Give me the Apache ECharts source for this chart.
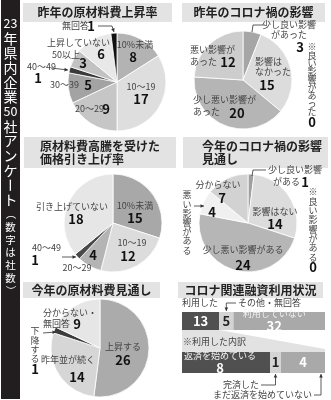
<!DOCTYPE html>
<html><head><meta charset="utf-8">
<script src="https://cdn.jsdelivr.net/npm/echarts@6/dist/echarts.min.js"></script>
<style>html,body{margin:0;padding:0;background:#fff}#c{width:331px;height:400px}</style>
</head><body><div id="c"></div>
<script>
// ---------- DATA ----------
const sideTitle = '23年県内企業50社アンケート';
const sideNote = '（数字は社数）';

const rise2022Title = ['昨年の原材料費上昇率'];
const rise2022Names = ['10%未満', '10〜19', '20〜29', '30〜39', '40〜49', '50以上', '上昇していない', '無回答'];
const rise2022Values = [8, 17, 9, 5, 1, 3, 6, 1];

const covid2022Title = ['昨年のコロナ禍の影響'];
const covid2022Names = ['少し良い影響があった', '影響はなかった', '少し悪い影響があった', '悪い影響があった'];
const covid2022Values = [3, 15, 20, 12];
const covid2022ZeroName = '※良い影響があった';
const covid2022ZeroValue = 0;

const priceTitle = ['原材料費高騰を受けた', '価格引き上げ率'];
const priceNames = ['10%未満', '10〜19', '20〜29', '40〜49', '引き上げていない'];
const priceValues = [15, 12, 4, 1, 18];

const covid2023Title = ['今年のコロナ禍の影響', '見通し'];
const covid2023Names = ['少し良い影響がある', '影響はない', '少し悪い影響がある', '悪い影響がある', '分からない'];
const covid2023Values = [1, 14, 24, 4, 7];
const covid2023ZeroName = '※良い影響がある';
const covid2023ZeroValue = 0;

const outlookTitle = ['今年の原材料費見通し'];
const outlookNames = ['上昇する', '昨年並が続く', '下降する', '分からない・無回答'];
const outlookValues = [26, 14, 1, 9];

const loanTitle = ['コロナ関連融資利用状況'];
const loanNames = ['利用した', 'その他・無回答', '利用していない'];
const loanValues = [13, 5, 32];
const breakdownTitle = '※利用した内訳';
const breakdownNames = ['返済を始めている', '完済した', 'まだ返済を始めていない'];
const breakdownValues = [8, 1, 4];

// ---------- STYLE / LAYOUT ----------
const FONT = '"Noto Sans CJK JP", "Noto Sans", sans-serif';
const NAME_C = '#444', VAL_C = '#111';
const R = 49;

const pies = [
  { names: rise2022Names, values: rise2022Values, center: [117, 82],
    colors: ['#b3b3b3', '#dedede', '#c6c6c6', '#a3a3a3', '#3a3a3a', '#c2c2c2', '#e8e8e8', '#111111'],
    labels: [
      { n: { x: 135, y: 45 }, v: { x: 133, y: 57 } },
      { n: { x: 141, y: 87 }, v: { x: 141, y: 99 } },
      { n: { x: 75, y: 109, align: 'left' }, v: { x: 106, y: 109 } },
      { n: { x: 50, y: 85, align: 'left' }, v: { x: 88, y: 85 } },
      { n: { x: 27, y: 67, align: 'left' }, v: { x: 38, y: 78 }, line: [[51, 68], [68, 70]], arrow: true },
      { n: { x: 52, y: 55, align: 'left' }, v: { x: 83, y: 63 } },
      { n: { x: 47, y: 43, align: 'left' }, v: { x: 101, y: 54 } },
      { n: { x: 62, y: 26, align: 'left' }, v: { x: 91, y: 26 }, line: [[98, 26], [112, 26], [114, 32]], arrow: true }
    ] },
  { names: covid2022Names, values: covid2022Values, center: [243, 80],
    colors: ['#a6a6a6', '#dcdcdc', '#b5b5b5', '#cdcdcd'],
    labels: [
      { n: { x: 289, y: 25, brk: [6], lh: 10 }, v: { x: 300, y: 47 }, line: [[265, 25], [253, 25], [252, 32]] },
      { n: { x: 255, y: 62, align: 'left', brk: [3], lh: 10 }, v: { x: 267, y: 85 } },
      { n: { x: 193, y: 100, align: 'left', brk: [7], lh: 12 }, v: { x: 237, y: 113 } },
      { n: { x: 190, y: 50, align: 'left', brk: [5], lh: 12 }, v: { x: 228, y: 62 } }
    ],
    zero: { name: covid2022ZeroName, value: covid2022ZeroValue, x: 312, y: 47, step: 8.1, vy: 122 } },
  { names: priceNames, values: priceValues, center: [113, 223],
    colors: ['#a8a8a8', '#dcdcdc', '#b4b4b4', '#4a4a4a', '#e6e6e6'],
    labels: [
      { n: { x: 135, y: 206 }, v: { x: 135, y: 218 } },
      { n: { x: 132, y: 243 }, v: { x: 128, y: 256 } },
      { n: { x: 77, y: 268 }, v: { x: 93, y: 255 } },
      { n: { x: 32, y: 248, align: 'left' }, v: { x: 35, y: 260 }, line: [[62, 257], [76, 257]], arrow: true },
      { n: { x: 72, y: 207 }, v: { x: 76, y: 219 } }
    ] },
  { names: covid2023Names, values: covid2023Values, center: [248, 223],
    colors: ['#a0a0a0', '#dcdcdc', '#b6b6b6', '#f0f0f0', '#d2d2d2'],
    labels: [
      { n: { x: 268, y: 170, align: 'left', brk: [6], lh: 12, dx: [0, 5] }, v: { x: 305, y: 182 }, line: [[266, 170], [253, 170], [252, 176]] },
      { n: { x: 275, y: 212 }, v: { x: 275, y: 224 } },
      { n: { x: 243, y: 250 }, v: { x: 243, y: 265 } },
      { n: { x: 187, y: 195, vert: true, step: 9.2 }, v: { x: 212, y: 212 }, line: [[194, 206], [204, 206]], arrow: true },
      { n: { x: 218, y: 185 }, v: { x: 222, y: 198 } }
    ],
    zero: { name: covid2023ZeroName, value: covid2023ZeroValue, x: 313, y: 192, step: 9.3, vy: 267 } },
  { names: outlookNames, values: outlookValues, center: [100, 348],
    colors: ['#ababab', '#d6d6d6', '#3c3c3c', '#e6e6e6'],
    labels: [
      { n: { x: 123, y: 347 }, v: { x: 123, y: 360 } },
      { n: { x: 68, y: 360 }, v: { x: 77, y: 377 } },
      { n: { x: 35, y: 331, vert: true, step: 9.2 }, v: { x: 35, y: 369 }, line: [[43, 333], [56, 332]], arrow: true },
      { n: { x: 43, y: 313, align: 'left', brk: [6], lh: 11 }, v: { x: 77, y: 324 } }
    ] }
];

const titles = [
  { lines: rise2022Title, x: 23, y: 3, w: 149, h: 19, align: 'center' },
  { lines: covid2022Title, x: 182, y: 3, w: 143, h: 19, align: 'center' },
  { lines: priceTitle, x: 24, y: 137, w: 152, h: 31, align: 'left', tx: 40 },
  { lines: covid2023Title, x: 183, y: 137, w: 145, h: 31, align: 'left', tx: 202 },
  { lines: outlookTitle, x: 23, y: 282, w: 137, h: 16, align: 'center' },
  { lines: loanTitle, x: 178, y: 282, w: 145, h: 16, align: 'center' }
];

const G1 = { left: 182, top: 312, width: 143, height: 18 };
const G2 = { left: 182, top: 352, width: 143, height: 21 };
const barColors = ['#505050', '#d4d4d4', '#a9a9a9'];
const loanLabelMode = ['v', 'v', 'nv'];
const loanLabelFill = ['#fff', '#222', '#fff'];
const loanLabelOffset = [[0, 0], [0, 0], [-5, 0]];
const brLabelMode = ['nv', 'v', 'v'];
const brLabelFill = ['#fff', '#222', '#fff'];
const brLabelOffset = [[-6, 0], [0, 0], [0, 0]];

// ---------- HELPERS ----------
const ROT = 'ー（）〜';
function tokens(s) { return s.match(/[0-9]+|./gu); }
function txt(t, x, y, o) {
  return { type: 'text', x: x, y: y, rotation: o.rot || 0, silent: true, z: 20,
    style: { text: t, fill: o.fill, fontSize: o.size, fontWeight: o.weight || 'normal', fontFamily: FONT,
      align: o.align || 'center', verticalAlign: 'middle' } };
}
function vert(str, x, y0, step, o) {
  return tokens(str).map(function (t, i) {
    const isD = /^[0-9]+$/.test(t);
    return txt(t, x, y0 + i * step, Object.assign({}, o, {
      rot: ROT.indexOf(t) >= 0 ? -Math.PI / 2 : 0,
      size: isD ? (o.dsize || o.size) : o.size, align: 'center' }));
  });
}
function splitAt(s, brk) {
  const out = []; let p = 0;
  brk.forEach(function (b) { out.push(s.slice(p, b)); p = b; });
  out.push(s.slice(p)); return out;
}
function leader(pts, arrow) {
  const els = [{ type: 'polyline', silent: true, z: 19, shape: { points: pts },
    style: { stroke: '#333', lineWidth: 0.8, fill: null } }];
  if (arrow) {
    const p1 = pts[pts.length - 2], p2 = pts[pts.length - 1];
    const a = Math.atan2(p2[1] - p1[1], p2[0] - p1[0]);
    const L = 3.5, W = 1.8;
    const bx = p2[0] - L * Math.cos(a), by = p2[1] - L * Math.sin(a);
    els.push({ type: 'polygon', silent: true, z: 19,
      shape: { points: [[p2[0], p2[1]], [bx - W * Math.sin(a), by + W * Math.cos(a)], [bx + W * Math.sin(a), by - W * Math.cos(a)]] },
      style: { fill: '#333' } });
  }
  return els;
}
function sum(a) { return a.reduce(function (s, v) { return s + v; }, 0); }

// ---------- SERIES ----------
const series = [];
pies.forEach(function (p) {
  series.push({
    type: 'pie', center: p.center, radius: [0, R], startAngle: 90, clockwise: true,
    avoidLabelOverlap: false, silent: true, animation: false,
    label: { show: false }, labelLine: { show: false }, emphasis: { disabled: true },
    itemStyle: { borderColor: '#fff', borderWidth: 0.8 },
    data: p.names.map(function (n, i) { return { name: n, value: p.values[i], itemStyle: { color: p.colors[i] } }; })
  });
});
function barSeries(names, values, stack, gi, modes, fills, offs) {
  return names.map(function (n, i) {
    return {
      type: 'bar', name: n, stack: stack, xAxisIndex: gi, yAxisIndex: gi, barWidth: '100%',
      silent: true, animation: false, data: [values[i]], itemStyle: { color: barColors[i] },
      label: { show: true, position: 'inside', offset: offs[i], textBorderWidth: 0,
        formatter: modes[i] === 'nv' ? '{n|' + n + '}\n{v|' + values[i] + '}' : '{v|' + values[i] + '}',
        rich: {
          n: { fontSize: 9, color: fills[i] === '#fff' ? '#f2f2f2' : fills[i], fontFamily: FONT, lineHeight: 11, textBorderWidth: 0 },
          v: { fontSize: 13, fontWeight: 'bold', color: fills[i], fontFamily: FONT, lineHeight: 14, textBorderWidth: 0 }
        } }
    };
  });
}
barSeries(loanNames, loanValues, 'loan', 0, loanLabelMode, loanLabelFill, loanLabelOffset).forEach(function (s) { series.push(s); });
barSeries(breakdownNames, breakdownValues, 'br', 1, brLabelMode, brLabelFill, brLabelOffset).forEach(function (s) { series.push(s); });

const chart = echarts.init(document.getElementById('c'), null, { renderer: 'canvas', width: 331, height: 400 });
chart.setOption({
  animation: false,
  grid: [G1, G2],
  xAxis: [
    { gridIndex: 0, type: 'value', min: 0, max: sum(loanValues), show: false },
    { gridIndex: 1, type: 'value', min: 0, max: sum(breakdownValues), show: false }
  ],
  yAxis: [
    { gridIndex: 0, type: 'category', data: ['loan'], show: false },
    { gridIndex: 1, type: 'category', data: ['breakdown'], show: false }
  ],
  series: series
});

// ---------- GRAPHICS ----------
const els = [];
// side bar
els.push({ type: 'rect', silent: true, z: 1, shape: { x: 1, y: 0, width: 19, height: 399 }, style: { fill: '#221e1f' } });
vert(sideTitle, 10.5, 23.5, 14.7, { fill: '#fff', size: 14, dsize: 12.5 }).forEach(function (e) { els.push(e); });
vert(sideNote, 10.5, 214, 12.8, { fill: '#fff', size: 10.5 }).forEach(function (e) { els.push(e); });

// titles
titles.forEach(function (t) {
  els.push({ type: 'rect', silent: true, z: 1, shape: { x: t.x, y: t.y, width: t.w, height: t.h }, style: { fill: '#e3e3e3' } });
  const lh = 13;
  const y0 = t.y + t.h / 2 - (t.lines.length - 1) * lh / 2;
  t.lines.forEach(function (l, i) {
    els.push(txt(l, t.align === 'center' ? t.x + t.w / 2 : t.tx, y0 + i * lh,
      { fill: '#222', size: 12, weight: 'bold', align: t.align }));
  });
});

// pie labels
pies.forEach(function (p) {
  p.labels.forEach(function (lb, i) {
    const name = p.names[i], s = lb.n;
    if (s.vert) {
      vert(name, s.x, s.y, s.step, { fill: NAME_C, size: 9 }).forEach(function (e) { els.push(e); });
    } else {
      splitAt(name, s.brk || []).forEach(function (part, k) {
        els.push(txt(part, s.x + (s.dx ? s.dx[k] : 0), s.y + k * (s.lh || 11), { fill: NAME_C, size: 9, align: s.align || 'center' }));
      });
    }
    els.push(txt(String(p.values[i]), lb.v.x, lb.v.y, { fill: VAL_C, size: 13, weight: 'bold' }));
    if (lb.line) leader(lb.line, lb.arrow).forEach(function (e) { els.push(e); });
  });
  if (p.zero) {
    vert(p.zero.name, p.zero.x, p.zero.y, p.zero.step, { fill: NAME_C, size: 9 }).forEach(function (e) { els.push(e); });
    els.push(txt(String(p.zero.value), p.zero.x, p.zero.vy, { fill: VAL_C, size: 13, weight: 'bold' }));
  }
});

// bar annotations
els.push(txt(loanNames[0], 182, 303, { fill: NAME_C, size: 9, align: 'left' }));
els.push(txt(loanNames[1], 238, 303, { fill: NAME_C, size: 9, align: 'left' }));
const xA = chart.convertToPixel({ xAxisIndex: 0 }, 0);
const xB = chart.convertToPixel({ xAxisIndex: 0 }, loanValues[0]);
const xMid1 = chart.convertToPixel({ xAxisIndex: 0 }, loanValues[0] + loanValues[1] / 2);
const xC = chart.convertToPixel({ xAxisIndex: 1 }, sum(breakdownValues));
const xMid2a = chart.convertToPixel({ xAxisIndex: 1 }, breakdownValues[0] + breakdownValues[1] / 2);
const xMid2b = chart.convertToPixel({ xAxisIndex: 1 }, sum(breakdownValues)) - 4;
leader([[236, 303], [xMid1, 303], [xMid1, G1.top - 1]], true).forEach(function (e) { els.push(e); });
// connector shade from "利用した" to its breakdown
const yB1 = G1.top + G1.height, yT2 = G2.top;
els.push({ type: 'polygon', silent: true, z: 0,
  shape: { points: [[xA, yB1], [xB, yB1], [xC, yT2 - 3], [xC, yT2], [xA, yT2]] },
  style: { fill: '#e2e2e2' } });
els.push(txt(breakdownTitle, 183, 342, { fill: NAME_C, size: 9, align: 'left' }));
const yB2 = G2.top + G2.height;
els.push(txt(breakdownNames[1], 259, 385, { fill: NAME_C, size: 9, align: 'right' }));
leader([[261, 385], [xMid2a, 385], [xMid2a, yB2 + 1]], true).forEach(function (e) { els.push(e); });
els.push(txt(breakdownNames[2], 312, 395, { fill: NAME_C, size: 9, align: 'right' }));
leader([[314, 395], [xMid2b, 395], [xMid2b, yB2 + 1]], true).forEach(function (e) { els.push(e); });

chart.setOption({ graphic: { elements: els } });
</script>
</body></html>
